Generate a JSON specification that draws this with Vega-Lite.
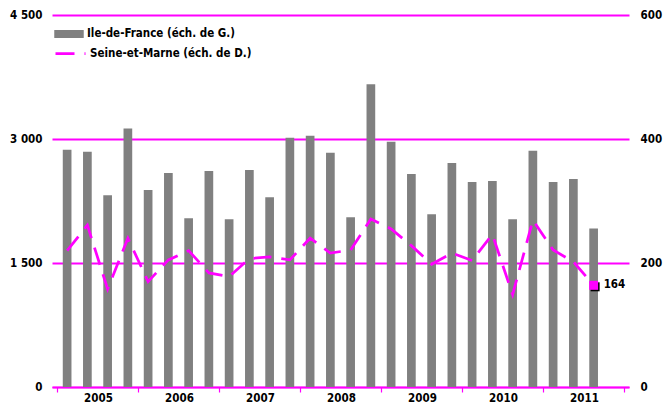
{
  "$schema": "https://vega.github.io/schema/vega-lite/v6.json",
  "autosize": {"type": "none"},
  "padding": {"left": 52, "top": 15, "right": 34, "bottom": 16},
  "width": 577,
  "height": 372,
  "background": "white",
  "config": {
    "view": {"stroke": null},
    "axis": {"labelFont": "DejaVu Sans Condensed", "labelFontWeight": "bold", "labelFontSize": 11.5, "labelColor": "#000000", "title": null},
    "legend": {"labelFont": "DejaVu Sans Condensed", "labelFontWeight": "bold", "labelFontSize": 11.5, "labelColor": "#000000", "labelLimit": 0}
  },
  "data": {
    "values": [
      {"t": 2005.125, "ifr": 2869, "sm": 220},
      {"t": 2005.375, "ifr": 2845, "sm": 261},
      {"t": 2005.625, "ifr": 2321, "sm": 158},
      {"t": 2005.875, "ifr": 3126, "sm": 240},
      {"t": 2006.125, "ifr": 2382, "sm": 170},
      {"t": 2006.375, "ifr": 2589, "sm": 205},
      {"t": 2006.625, "ifr": 2040, "sm": 220},
      {"t": 2006.875, "ifr": 2613, "sm": 184},
      {"t": 2007.125, "ifr": 2028, "sm": 178},
      {"t": 2007.375, "ifr": 2626, "sm": 207},
      {"t": 2007.625, "ifr": 2296, "sm": 210},
      {"t": 2007.875, "ifr": 3016, "sm": 205},
      {"t": 2008.125, "ifr": 3040, "sm": 240},
      {"t": 2008.375, "ifr": 2833, "sm": 216},
      {"t": 2008.625, "ifr": 2052, "sm": 221},
      {"t": 2008.875, "ifr": 3662, "sm": 271},
      {"t": 2009.125, "ifr": 2967, "sm": 255},
      {"t": 2009.375, "ifr": 2577, "sm": 228},
      {"t": 2009.625, "ifr": 2089, "sm": 198},
      {"t": 2009.875, "ifr": 2711, "sm": 216},
      {"t": 2010.125, "ifr": 2479, "sm": 204},
      {"t": 2010.375, "ifr": 2491, "sm": 246},
      {"t": 2010.625, "ifr": 2028, "sm": 149},
      {"t": 2010.875, "ifr": 2857, "sm": 269},
      {"t": 2011.125, "ifr": 2479, "sm": 221},
      {"t": 2011.375, "ifr": 2516, "sm": 202},
      {"t": 2011.625, "ifr": 1918, "sm": 164, "last": true}
    ]
  },
  "encoding": {
    "x": {
      "field": "t", "type": "quantitative",
      "scale": {"domain": [2005, 2012], "nice": false, "zero": false},
      "axis": {
        "values": [2005, 2006, 2007, 2008, 2009, 2010, 2011, 2012],
        "format": "d",
        "labelExpr": "datum.value < 2012 ? datum.label : ''",
        "labelOffset": 41,
        "labelFlush": false, "labelOverlap": false, "labelBound": false,
        "labelPadding": 0,
        "grid": false,
        "domainColor": "#FF00FF", "domainWidth": 1.5,
        "tickColor": "#FF00FF", "tickSize": 5, "tickWidth": 1.2
      }
    }
  },
  "layer": [
    {
      "mark": {"type": "bar", "size": 8.7},
      "encoding": {
        "y": {
          "field": "ifr", "type": "quantitative",
          "scale": {"domain": [0, 4500], "nice": false},
          "axis": {
            "orient": "left", "values": [0, 1500, 3000, 4500],
            "labelExpr": "replace(format(datum.value, ','), ',', ' ')",
            "domain": false, "ticks": false, "tickSize": 0, "labelPadding": 10,
            "grid": true, "gridColor": "#FF00FF", "gridWidth": 1.8, "gridOpacity": 1
          }
        },
        "fill": {
          "datum": "Ile-de-France (éch. de G.)",
          "scale": {"range": ["#808080"]},
          "legend": {
            "orient": "none", "legendX": 2, "legendY": 4, "title": null,
            "symbolType": "M-1,-0.27H1V0.27H-1Z", "symbolSize": 870,
            "symbolStrokeWidth": 0, "labelOffset": 3, "labelLimit": 0
          }
        }
      }
    },
    {
      "mark": {"type": "line", "strokeWidth": 2.75, "strokeDash": [18, 10], "strokeCap": "butt"},
      "encoding": {
        "y": {
          "field": "sm", "type": "quantitative",
          "scale": {"domain": [0, 600], "nice": false},
          "axis": {
            "orient": "right", "values": [0, 200, 400, 600],
            "domain": false, "ticks": false, "tickSize": 0, "labelPadding": 11,
            "grid": false
          }
        },
        "stroke": {
          "datum": "Seine-et-Marne (éch. de D.)",
          "scale": {"range": ["#FF00FF"]},
          "legend": {
            "orient": "none", "legendX": 2, "legendY": 22, "title": null,
            "symbolType": "stroke", "symbolSize": 900, "symbolStrokeWidth": 2.75,
            "symbolDash": [19, 10], "labelOffset": 3, "labelLimit": 0
          }
        }
      }
    },
    {
      "transform": [{"filter": "datum.last"}],
      "mark": {"type": "point", "shape": "square", "filled": true, "size": 81, "color": "#000000", "opacity": 1, "xOffset": 1.5, "yOffset": 1.5},
      "encoding": {"y": {"field": "sm", "type": "quantitative", "scale": {"domain": [0, 600], "nice": false}, "axis": null}}
    },
    {
      "transform": [{"filter": "datum.last"}],
      "mark": {"type": "point", "shape": "square", "filled": true, "size": 81, "color": "#FF00FF", "opacity": 1},
      "encoding": {"y": {"field": "sm", "type": "quantitative", "scale": {"domain": [0, 600], "nice": false}, "axis": null}}
    },
    {
      "transform": [{"filter": "datum.last"}],
      "mark": {"type": "text", "align": "left", "baseline": "middle", "dx": 10, "font": "DejaVu Sans Condensed", "fontWeight": "bold", "fontSize": 11.5, "color": "#000000"},
      "encoding": {
        "y": {"field": "sm", "type": "quantitative", "scale": {"domain": [0, 600], "nice": false}, "axis": null},
        "text": {"field": "sm", "type": "quantitative"}
      }
    }
  ],
  "resolve": {"scale": {"y": "independent"}}
}
